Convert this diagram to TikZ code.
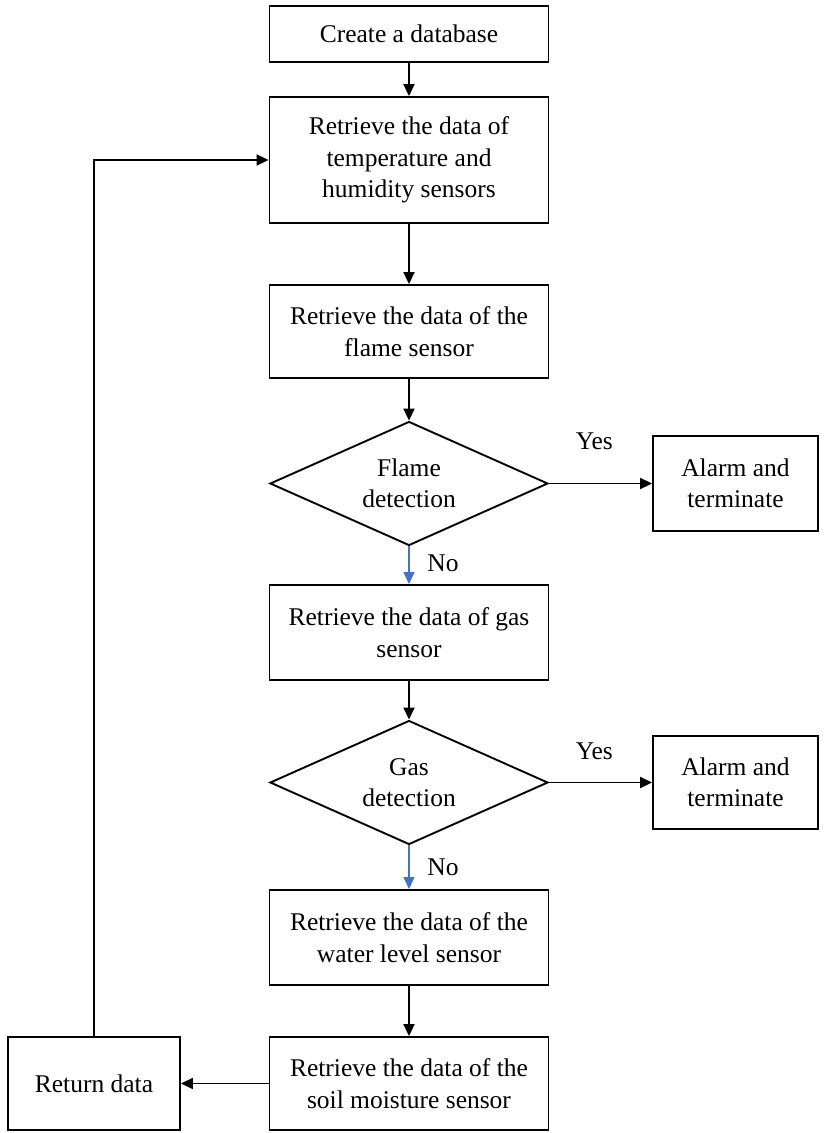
\documentclass[tikz,border=0pt]{standalone}
\usepackage{fontspec}
\setmainfont{Liberation Serif}
\usetikzlibrary{arrows.meta,shapes.geometric}
\definecolor{noblue}{HTML}{4472C4}
\tikzset{
  txt/.style={font=\fontsize{25.5}{31.5}\selectfont, align=center},
  box/.style={txt, draw, line width=1.9pt, rectangle, inner sep=0pt, minimum width=279pt},
  dec/.style={txt, draw, line width=1.9pt, diamond, shape aspect=2.24, inner sep=0pt, minimum width=278pt, minimum height=124pt},
  arr/.style={line width=1.9pt, -{Triangle[length=12pt,width=11pt]}},
  barr/.style={arr, noblue, line width=1.2pt},
  lbl/.style={font=\fontsize{25.5}{31.5}\selectfont, inner sep=0pt}
}
\begin{document}
\begin{tikzpicture}[x=1pt,y=-1pt]
\useasboundingbox (0,0) rectangle (829,1133);
\node[box, minimum height=56pt] (create) at (409,34) {Create a database};
\node[box, minimum height=126pt] (temp) at (409,160) {Retrieve the data of\\temperature and\\humidity sensors};
\node[box, minimum height=93pt] (flame) at (409,331.5) {Retrieve the data of the\\flame sensor};
\node[dec] (fd) at (409,483.5) {Flame\\detection};
\node[box, minimum width=165pt, minimum height=95pt] (alarm1) at (735.5,483.5) {Alarm and\\terminate};
\node[box, minimum height=95pt] (gas) at (409,632.5) {Retrieve the data of gas\\sensor};
\node[dec] (gd) at (409,782.5) {Gas\\detection};
\node[box, minimum width=165pt, minimum height=93pt] (alarm2) at (735.5,782.5) {Alarm and\\terminate};
\node[box, minimum height=95pt] (water) at (409,937.5) {Retrieve the data of the\\water level sensor};
\node[box, minimum height=93pt] (soil) at (409,1083.5) {Retrieve the data of the\\soil moisture sensor};
\node[box, minimum width=172pt, minimum height=93pt] (ret) at (94,1083.5) {Return data};

\draw[arr] (create) -- (temp);
\draw[arr] (temp) -- (flame);
\draw[arr] (flame) -- (fd);
\draw[arr] (fd.east) -- node[lbl, pos=0.44, yshift=42pt] {Yes} (alarm1.west);
\draw[barr] (fd.south) -- node[lbl, pos=0.45, xshift=34pt, text=black] {No} (gas.north);
\draw[arr] (gas) -- (gd);
\draw[arr] (gd.east) -- node[lbl, pos=0.44, yshift=31pt] {Yes} (alarm2.west);
\draw[barr] (gd.south) -- node[lbl, pos=0.5, xshift=34pt, text=black] {No} (water.north);
\draw[arr] (water) -- (soil);
\draw[arr] (soil) -- (ret);
\draw[arr] (ret.north) |- (temp.west);
\end{tikzpicture}
\end{document}
